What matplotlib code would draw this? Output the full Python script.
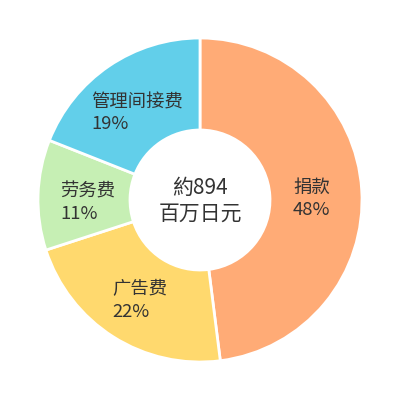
import numpy as np
import matplotlib
matplotlib.use('Agg')
import matplotlib.pyplot as plt

plt.rcParams['font.family'] = ['Noto Sans CJK SC', 'DejaVu Sans']

# data, clockwise from the top
categories = ['捐款', '广告费', '劳务费', '管理间接费']
shares = [48, 22, 11, 19]
colors = ['#FFAB76', '#FFD96E', '#C6EFB4', '#62CFEA']
center_text = '約894\n百万日元'

fig = plt.figure(figsize=(4, 4), dpi=100)
ax = fig.add_axes([0, 0, 1, 1])

r_out = 162
r_in = 70
wedges, _ = ax.pie(shares, radius=r_out, startangle=90, counterclock=False,
                   colors=colors,
                   wedgeprops=dict(width=r_out - r_in, edgecolor='white', linewidth=2))
ax.set_xlim(-200, 200)
ax.set_ylim(-200, 200)
ax.set_aspect('equal')
ax.axis('off')

# labels in the middle of each ring segment
r_lab = 112
for w, name, val in zip(wedges, categories, shares):
    mid = np.deg2rad((w.theta1 + w.theta2) / 2)
    ax.text(r_lab * np.cos(mid), r_lab * np.sin(mid) - 6, f'{name}\n{val}%',
            ha='center', va='center', multialignment='left',
            fontsize=13.2, color='#333333', linespacing=1.3)

ax.text(0, -1, center_text, ha='center', va='center', fontsize=15,
        color='#333333', linespacing=1.2)

fig.savefig('out.png', dpi=100)
